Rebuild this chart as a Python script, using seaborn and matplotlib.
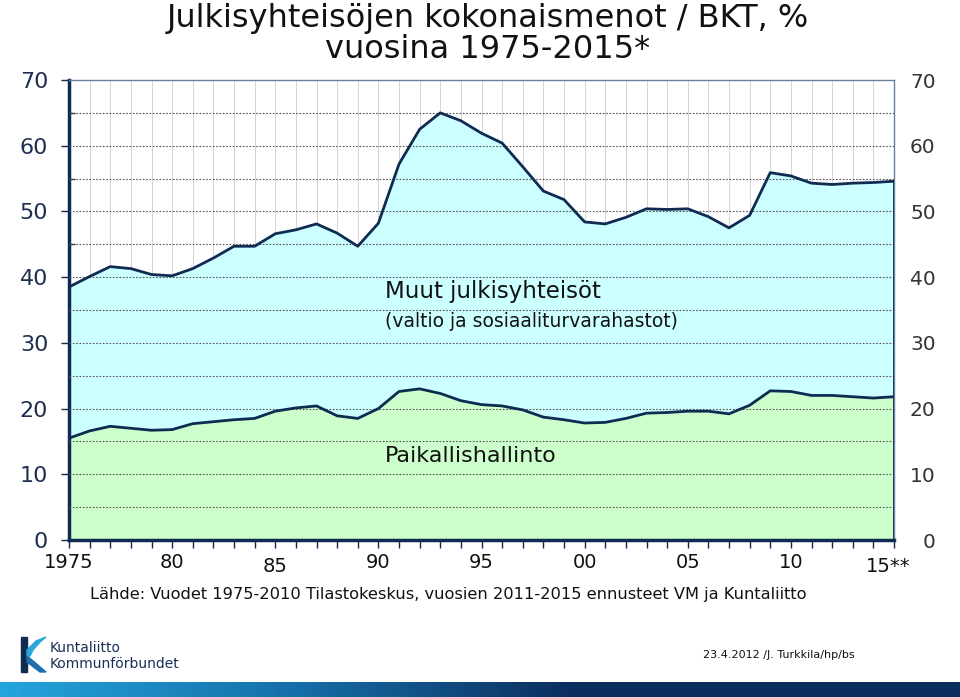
import numpy as np
import matplotlib
matplotlib.use("Agg")
import matplotlib.pyplot as plt
import matplotlib.transforms as mtransforms
from matplotlib.colors import LinearSegmentedColormap
from matplotlib.patches import Polygon, Rectangle
import seaborn as sns

# data
years = list(range(1975, 2016))
total = [38.5, 40.1, 41.6, 41.3, 40.4, 40.2, 41.3, 42.9, 44.7, 44.7,
         46.6, 47.2, 48.1, 46.7, 44.7, 48.2, 57.2, 62.5, 65.0, 63.8,
         61.9, 60.4, 56.8, 53.1, 51.8, 48.4, 48.1, 49.1, 50.4, 50.3,
         50.4, 49.2, 47.5, 49.4, 55.9, 55.4, 54.3, 54.1, 54.3, 54.4, 54.6]
local = [15.5, 16.6, 17.3, 17.0, 16.7, 16.8, 17.7, 18.0, 18.3, 18.5,
         19.6, 20.1, 20.4, 18.9, 18.5, 20.0, 22.6, 23.0, 22.3, 21.2,
         20.6, 20.4, 19.8, 18.7, 18.3, 17.8, 17.9, 18.5, 19.3, 19.4,
         19.6, 19.6, 19.2, 20.5, 22.7, 22.6, 22.0, 22.0, 21.8, 21.6, 21.8]
label_years = [1975, 1980, 1985, 1990, 1995, 2000, 2005, 2010, 2015]
label_text = ['1975', '80', '85', '90', '95', '00', '05', '10', '15**']
y_ticks = [0, 10, 20, 30, 40, 50, 60, 70]

sns.set_theme(style="white")
plt.rcParams['font.family'] = ['DejaVu Sans']

navy = '#0f2b52'
W, H = 960, 697

fig = plt.figure(figsize=(9.6, 6.97), dpi=100)
ax = fig.add_axes([69 / W, 157 / H, 825 / W, 460 / H])

# fills
ax.fill_between(years, 0, local, color='#ccffcc', zorder=1, lw=0)
ax.fill_between(years, local, total, color='#ccffff', zorder=1, lw=0)

# light vertical grid (behind fill)
ax.vlines(years[1:-1], 0, 70, color='#d4d4d4', lw=0.7, zorder=0)
# dotted horizontal grid
ax.hlines(np.arange(5, 70, 5), 1975, 2015, color='#555555', lw=0.8,
          linestyles=(0, (1.5, 1.5)), zorder=3)

sns.lineplot(x=years, y=total, color=navy, lw=2, ax=ax, zorder=4)
sns.lineplot(x=years, y=local, color=navy, lw=2, ax=ax, zorder=4)
ax.vlines(2015, 0, total[-1], color=navy, lw=2, zorder=4)

ax.set_xlim(1975, 2015)
ax.set_ylim(0, 70)

# x ticks
ax.set_xticks(years, minor=True)
ax.set_xticks(label_years)
ax.set_xticklabels(label_text, fontsize=14, color='#111111')
ax.tick_params(axis='x', which='both', direction='out', length=6, width=1,
               color=navy, pad=3, bottom=True)
for lab in ax.get_xticklabels():
    dy = 0
    dx = 0
    if lab.get_text() == '85':
        dy = -5
    if lab.get_text() == '15**':
        dy = -5
        dx = -6
    if dx or dy:
        off = mtransforms.ScaledTranslation(dx / 100, dy / 100, fig.dpi_scale_trans)
        lab.set_transform(lab.get_transform() + off)

# left y ticks
ax.set_yticks(y_ticks)
ax.set_yticklabels([str(v) for v in y_ticks], fontsize=16, color='#1f2f4f')
ax.set_yticks(np.arange(5, 70, 10), minor=True)
ax.tick_params(axis='y', which='major', direction='out', length=6, width=1,
               color=navy, pad=9, left=True)
ax.tick_params(axis='y', which='minor', direction='in', length=4, width=1,
               color=navy, left=True)

for s in ['left', 'bottom']:
    ax.spines[s].set_color(navy)
    ax.spines[s].set_linewidth(2.5)
for s in ['top', 'right']:
    ax.spines[s].set_color('#6a7fa0')
    ax.spines[s].set_linewidth(1)

# right axis
ax2 = ax.twinx()
ax2.set_ylim(0, 70)
ax2.set_yticks(y_ticks)
ax2.set_yticklabels([str(v) for v in y_ticks], fontsize=14.5, color='#333333')
ax2.tick_params(axis='y', length=0, pad=30, right=True)
for lab in ax2.get_yticklabels():
    lab.set_ha('right')
for s in ax2.spines.values():
    s.set_visible(False)

# annotations
ax.text(1990.3, 37.8, 'Muut julkisyhteisöt', fontsize=16.5, color='#111111',
        va='center', zorder=5)
ax.text(1990.3, 33.3, '(valtio ja sosiaaliturvarahastot)', fontsize=13.5,
        color='#111111', va='center', zorder=5)
ax.text(1990.3, 12.8, 'Paikallishallinto', fontsize=16, color='#111111',
        va='center', zorder=5)

# title
fig.text(488 / W, 1 - 18 / H, 'Julkisyhteisöjen kokonaismenot / BKT, %',
         fontsize=23, ha='center', va='center', color='#111111')
fig.text(488 / W, 1 - 50 / H, 'vuosina 1975-2015*',
         fontsize=23, ha='center', va='center', color='#111111')

# source
fig.text(90 / W, 1 - 594 / H,
         'Lähde: Vuodet 1975-2010 Tilastokeskus, vuosien 2011-2015 ennusteet VM ja Kuntaliitto',
         fontsize=11.7, ha='left', va='center', color='#111111')

# logo
logo = fig.add_axes([0, 0, 1, 1], zorder=-1)
logo.set_xlim(0, W)
logo.set_ylim(H, 0)
logo.axis('off')
logo.add_patch(Rectangle((21, 637), 6, 35, color='#0f2b52'))
logo.add_patch(Polygon([(27, 650), (36, 641), (46, 637), (40, 642), (33, 650),
                        (30, 656), (27, 656)], color='#2aa5dc'))
logo.add_patch(Polygon([(27, 656), (32, 660), (46, 672), (40, 672), (27, 662)],
                       color='#1d6fae'))
logo.text(50, 648, 'Kuntaliitto', fontsize=10, va='center', color='#1a2f55')
logo.text(50, 664, 'Kommunförbundet', fontsize=10, va='center', color='#1a2f55')
logo.text(703, 655, '23.4.2012 /J. Turkkila/hp/bs', fontsize=8, va='center',
          color='#111111')

# bottom gradient bar
bar = fig.add_axes([0, 0, 1, 15 / H])
cmap = LinearSegmentedColormap.from_list(
    'bar', [(0, '#24a4dc'), (0.3, '#1670aa'), (0.6, '#0b2d5e'), (1, '#0b2d5e')])
bar.imshow(np.linspace(0, 1, 256).reshape(1, -1), aspect='auto', cmap=cmap)
bar.axis('off')

fig.savefig('out.png', dpi=100)
